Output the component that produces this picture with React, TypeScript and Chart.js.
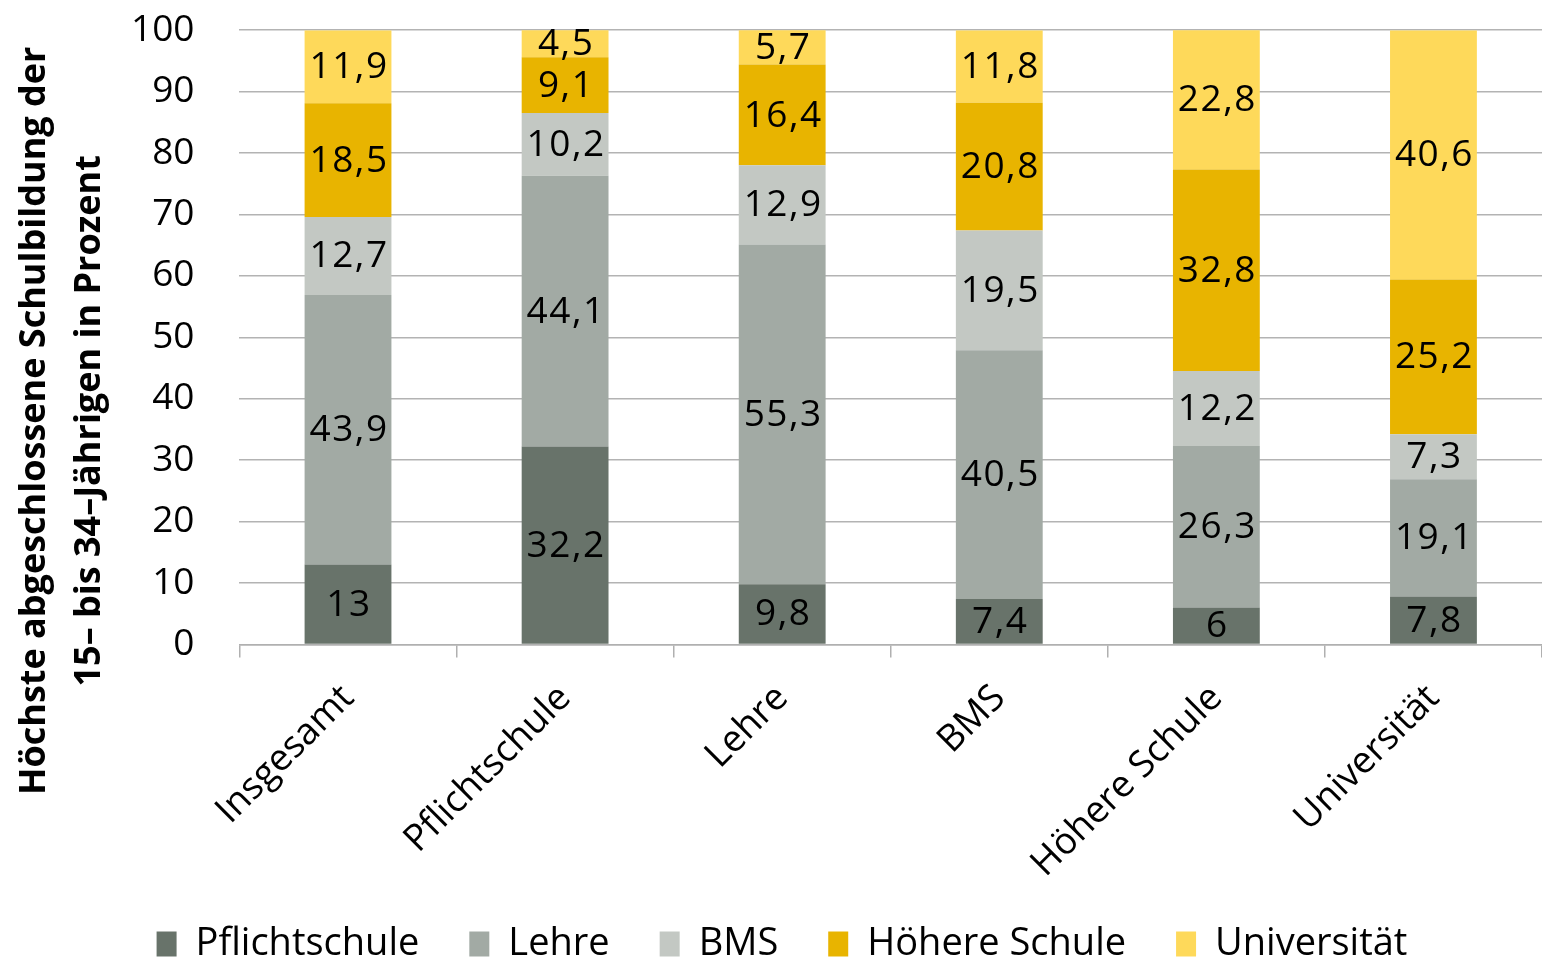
import { useEffect, useRef } from "react";
import { Chart, registerables } from "chart.js";

Chart.register(...registerables);

// Highest completed education of 15- to 34-year-olds, by parents' education
const categories = ["Insgesamt", "Pflichtschule", "Lehre", "BMS", "Höhere Schule", "Universität"];
const seriesNames = ["Pflichtschule", "Lehre", "BMS", "Höhere Schule", "Universität"];
const pflichtschule = [13, 32.2, 9.8, 7.4, 6, 7.8];
const lehre = [43.9, 44.1, 55.3, 40.5, 26.3, 19.1];
const bms = [12.7, 10.2, 12.9, 19.5, 12.2, 7.3];
const hoehereSchule = [18.5, 9.1, 16.4, 20.8, 32.8, 25.2];
const universitaet = [11.9, 4.5, 5.7, 11.8, 22.8, 40.6];
const seriesColors = ["#68736a", "#a2aaa4", "#c3c8c3", "#e8b400", "#fed95a"];
const yTitleLines = ["Höchste abgeschlossene Schulbildung der", "15– bis 34–Jährigen in Prozent"];

const FONT = '"Open Sans", "DejaVu Sans", sans-serif';
const formatValue = (v: number) => String(v).replace(".", ",");

// Writes each segment's value in the middle of its bar piece
const valueLabels = {
  id: "valueLabels",
  afterDatasetsDraw(chart: any) {
    const { ctx, chartArea } = chart;
    ctx.save();
    ctx.font = `37px ${FONT}`;
    ctx.fillStyle = "#000";
    ctx.textAlign = "center";
    ctx.textBaseline = "middle";
    (ctx as any).letterSpacing = "1.5px";
    chart.data.datasets.forEach((ds: any, di: number) => {
      const meta = chart.getDatasetMeta(di);
      meta.data.forEach((bar: any, i: number) => {
        const top = Math.max(bar.y, chartArea.top);
        const y = (top + bar.base) / 2;
        ctx.fillText(formatValue(ds.data[i]), bar.x + 1, y + 1);
      });
    });
    ctx.restore();
  },
};

// Two-line rotated title for the value axis
const yAxisTitle = {
  id: "yAxisTitle",
  afterDraw(chart: any) {
    const { ctx, chartArea } = chart;
    const cy = chartArea.top + (chartArea.bottom - chartArea.top) * 0.636;
    const xs = [chartArea.left - 205, chartArea.left - 150];
    ctx.save();
    ctx.font = `bold 36px ${FONT}`;
    ctx.fillStyle = "#000";
    ctx.textAlign = "center";
    ctx.textBaseline = "middle";
    yTitleLines.forEach((line, i) => {
      ctx.save();
      ctx.translate(xs[i], cy);
      ctx.rotate(-Math.PI / 2);
      ctx.fillText(line, 0, 0);
      ctx.restore();
    });
    ctx.restore();
  },
};

export default function App() {
  const canvasRef = useRef<HTMLCanvasElement | null>(null);

  useEffect(() => {
    if (!canvasRef.current) return;
    const values = [pflichtschule, lehre, bms, hoehereSchule, universitaet];
    const chart = new Chart(canvasRef.current, {
      type: "bar",
      data: {
        labels: categories,
        datasets: seriesNames.map((name, i) => ({
          label: name,
          data: values[i],
          backgroundColor: seriesColors[i],
          borderWidth: 0,
          barPercentage: 0.4,
          categoryPercentage: 1,
        })),
      },
      options: {
        animation: false,
        responsive: false,
        maintainAspectRatio: false,
        layout: { padding: { left: 22, top: 0, right: 0, bottom: -12 } },
        plugins: {
          tooltip: { enabled: false },
          legend: {
            position: "bottom",
            labels: {
              font: { family: FONT, size: 38 },
              color: "#000",
              boxWidth: 20,
              boxHeight: 25,
              padding: 50,
            },
          },
        },
        scales: {
          x: {
            stacked: true,
            afterFit: (axis: any) => {
              axis.height -= 30;
            },
            grid: {
              display: true,
              drawOnChartArea: false,
              drawTicks: true,
              tickLength: 13,
              color: "#b0b0b0",
              lineWidth: 1.5,
            },
            border: { display: true, color: "#b0b0b0", width: 1.5 },
            ticks: {
              autoSkip: false,
              minRotation: 45,
              maxRotation: 45,
              color: "#000",
              padding: 19,
              font: { family: FONT, size: 37 },
            },
          },
          y: {
            stacked: true,
            min: 0,
            max: 100,
            // leave room on the left for the two-line axis title
            afterFit: (axis: any) => {
              axis.width += 101;
            },
            grid: {
              color: "#b3b3b3",
              lineWidth: 1.5,
              drawTicks: true,
              tickLength: 37,
              tickColor: "rgba(0,0,0,0)",
            },
            border: { display: false },
            ticks: {
              stepSize: 10,
              color: "#000",
              padding: 8,
              font: { family: FONT, size: 37 },
            },
          },
        },
      },
      plugins: [valueLabels, yAxisTitle],
    });
    return () => chart.destroy();
  }, []);

  return (
    <div style={{ position: "absolute", left: 0, top: 0, width: 1542, height: 961, background: "#fff" }}>
      <canvas ref={canvasRef} width={1542} height={961} />
    </div>
  );
}
